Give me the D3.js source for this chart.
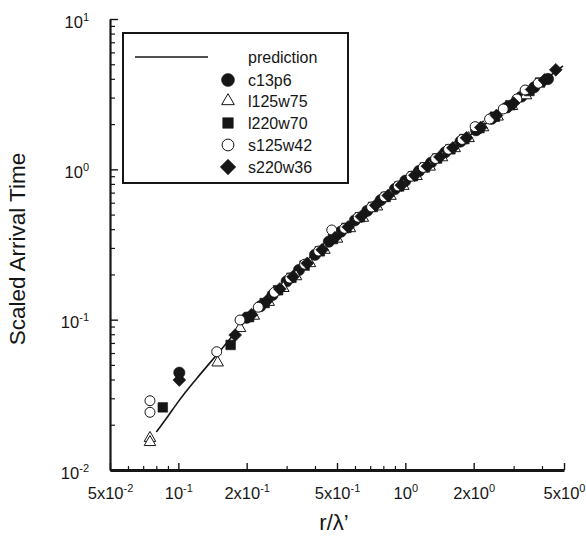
<!DOCTYPE html>
<html>
<head>
<meta charset="utf-8">
<script src="https://cdn.jsdelivr.net/npm/d3@7"></script>
<style>
  html, body { margin: 0; padding: 0; background: #fff; }
  svg { display: block; font-family: "Liberation Sans", Arial, Helvetica, sans-serif; }
</style>
</head>
<body>
<svg id="chart" width="586" height="540"></svg>
<script>
// ---- prediction curve ----
const predX = [0.08, 0.09, 0.1, 0.12, 0.15, 0.2, 0.3, 0.5, 0.7, 1.0, 1.5, 2.0, 3.0, 4.0, 4.95];
const predY = [0.0179, 0.0228, 0.0285, 0.0403, 0.060, 0.100, 0.176, 0.361, 0.540, 0.822, 1.28, 1.756, 2.762, 3.823, 4.875];

// ---- measured runs ----
const c13p6X = [0.101, 0.20, 0.23, 0.26, 0.30, 0.34, 0.40, 0.46, 0.52, 0.60, 0.68, 0.78, 0.90, 1.00, 1.15, 1.30, 1.50, 1.75, 2.05, 2.40, 2.80, 3.25, 3.70, 4.25];
const c13p6Y = [0.0444, 0.103, 0.123, 0.146, 0.180, 0.214, 0.270, 0.330, 0.385, 0.458, 0.530, 0.625, 0.740, 0.84, 0.975, 1.11, 1.30, 1.53, 1.82, 2.17, 2.58, 3.05, 3.52, 3.99];

const l125w75X = [0.075, 0.075, 0.149, 0.187, 0.215, 0.25, 0.29, 0.33, 0.38, 0.44, 0.50, 0.57, 0.65, 0.75, 0.86, 0.98, 1.12, 1.28, 1.45, 1.65, 1.9, 2.2, 2.55, 2.95, 3.4];
const l125w75Y = [0.0163, 0.0153, 0.0518, 0.0877, 0.106, 0.131, 0.162, 0.194, 0.237, 0.291, 0.345, 0.405, 0.475, 0.565, 0.665, 0.775, 0.90, 1.04, 1.20, 1.38, 1.61, 1.90, 2.24, 2.63, 3.10];

const l220w70X = [0.0854, 0.170, 0.205, 0.24, 0.275, 0.315, 0.36, 0.42, 0.48, 0.55, 0.63, 0.72, 0.82, 0.94, 1.08, 1.22, 1.38, 1.58, 1.82, 2.12, 2.48, 2.9, 3.52, 3.92];
const l220w70Y = [0.0261, 0.0679, 0.104, 0.129, 0.157, 0.190, 0.229, 0.285, 0.344, 0.408, 0.48, 0.562, 0.655, 0.77, 0.90, 1.03, 1.18, 1.36, 1.59, 1.88, 2.24, 2.67, 3.32, 3.78];

const s125w42X = [0.075, 0.075, 0.1476, 0.187, 0.225, 0.265, 0.31, 0.36, 0.415, 0.474, 0.54, 0.62, 0.71, 0.81, 0.93, 1.06, 1.2, 1.36, 1.55, 1.78, 2.03, 2.35, 2.7, 3.1, 3.37, 3.85];
const s125w42Y = [0.0289, 0.0242, 0.0612, 0.0995, 0.121, 0.152, 0.189, 0.234, 0.286, 0.395, 0.405, 0.48, 0.562, 0.658, 0.775, 0.90, 1.03, 1.18, 1.36, 1.58, 1.923, 2.16, 2.52, 2.94, 3.37, 3.74];

const s220w36X = [0.101, 0.178, 0.21, 0.245, 0.28, 0.32, 0.37, 0.43, 0.49, 0.56, 0.64, 0.74, 0.84, 0.96, 1.1, 1.25, 1.42, 1.62, 1.86, 2.15, 2.52, 3.0, 3.6, 4.1, 4.6];
const s220w36Y = [0.0397, 0.079, 0.108, 0.133, 0.160, 0.193, 0.237, 0.292, 0.351, 0.414, 0.486, 0.577, 0.670, 0.785, 0.913, 1.05, 1.21, 1.39, 1.62, 1.90, 2.28, 2.76, 3.40, 3.93, 4.59];

// ---- axis ticks ----
const xMajorTicks = [0.05, 0.1, 0.2, 0.5, 1, 2, 5];
const xMajorLabels = [["5x10", "-2"], ["10", "-1"], ["2x10", "-1"], ["5x10", "-1"], ["10", "0"], ["2x10", "0"], ["5x10", "0"]];
const xMinorTicks = [0.06, 0.07, 0.08, 0.09, 0.3, 0.4, 0.6, 0.7, 0.8, 0.9, 3, 4];
const yMajorTicks = [0.01, 0.1, 1, 10];
const yMajorLabels = [["10", "-2"], ["10", "-1"], ["10", "0"], ["10", "1"]];
const yMinorTicks = [0.02, 0.03, 0.04, 0.05, 0.06, 0.07, 0.08, 0.09,
                     0.2, 0.3, 0.4, 0.5, 0.6, 0.7, 0.8, 0.9,
                     2, 3, 4, 5, 6, 7, 8, 9];

const seriesNames = ["c13p6", "l125w75", "l220w70", "s125w42", "s220w36"];
const seriesX = [c13p6X, l125w75X, l220w70X, s125w42X, s220w36X];
const seriesY = [c13p6Y, l125w75Y, l220w70Y, s125w42Y, s220w36Y];

const ink = "#161616";

const svg = d3.select("#chart");
const x = d3.scaleLog().domain([0.05, 5]).range([110, 564]);
const y = d3.scaleLog().domain([0.01, 10]).range([470, 19]);

// marker shapes: symbol type, area in plot, area in legend, filled, rotation
const markerStyle = {
  c13p6:   { type: d3.symbolCircle,   plot: 100, legend: 130, filled: true,  rot: 0 },
  l125w75: { type: d3.symbolTriangle, plot: 58,  legend: 70,  filled: false, rot: 0 },
  l220w70: { type: d3.symbolSquare,   plot: 92,  legend: 110, filled: true,  rot: 0 },
  s125w42: { type: d3.symbolCircle,   plot: 78,  legend: 110, filled: false, rot: 0 },
  s220w36: { type: d3.symbolSquare,   plot: 82,  legend: 120, filled: true,  rot: 45 }
};

function drawMarker(g, name, cx, cy, which) {
  const st = markerStyle[name];
  const path = d3.symbol().type(st.type).size(st[which])();
  g.append("path")
    .attr("d", path)
    .attr("transform", `translate(${cx},${cy}) rotate(${st.rot})`)
    .attr("fill", st.filled ? ink : "#fff")
    .attr("stroke", ink)
    .attr("stroke-width", st.filled ? 0.6 : 1);
}

// ---- axes ----
const xAxisG = svg.append("g").attr("transform", "translate(0,470)");
xAxisG.call(d3.axisBottom(x).tickValues(xMinorTicks).tickSizeInner(-4).tickSizeOuter(0).tickFormat(""));
xAxisG.call(g => g.selectAll(".tick line").attr("stroke", ink).attr("stroke-width", 1.2));
const xMajG = svg.append("g").attr("transform", "translate(0,470)");
xMajG.call(d3.axisBottom(x).tickValues(xMajorTicks).tickSizeInner(-7).tickSizeOuter(0).tickPadding(0).tickFormat(""));
xMajG.select(".domain").remove();
xMajG.selectAll(".tick line").attr("stroke", ink).attr("stroke-width", 1.4);
xMajG.selectAll(".tick").append("text")
  .attr("fill", ink)
  .attr("y", 29)
  .attr("text-anchor", "middle")
  .style("font-size", "16.5px")
  .each(function(d, i) {
    const t = d3.select(this);
    t.append("tspan").text(xMajorLabels[i][0]);
    t.append("tspan").attr("dy", -7).style("font-size", "11px").text(xMajorLabels[i][1]);
  });
xAxisG.select(".domain").attr("stroke", ink).attr("stroke-width", 3);

const yAxisG = svg.append("g").attr("transform", "translate(110,0)");
yAxisG.call(d3.axisLeft(y).tickValues(yMinorTicks).tickSizeInner(-5).tickSizeOuter(0).tickFormat(""));
yAxisG.selectAll(".tick line").attr("stroke", ink).attr("stroke-width", 1.2);
yAxisG.select(".domain").attr("stroke", ink).attr("stroke-width", 2.2);
const yMajG = svg.append("g").attr("transform", "translate(110,0)");
yMajG.call(d3.axisLeft(y).tickValues(yMajorTicks).tickSizeInner(-8).tickSizeOuter(0).tickFormat(""));
yMajG.select(".domain").remove();
yMajG.selectAll(".tick line").attr("stroke", ink).attr("stroke-width", 1.4);
yMajG.selectAll(".tick").append("text")
  .attr("fill", ink)
  .attr("x", -21)
  .attr("y", 8)
  .attr("text-anchor", "end")
  .style("font-size", "16.5px")
  .each(function(d, i) {
    const t = d3.select(this);
    t.append("tspan").text(yMajorLabels[i][0]);
    t.append("tspan").attr("dy", -7).style("font-size", "11px").text(yMajorLabels[i][1]);
  });

// axis titles
svg.append("text")
  .attr("transform", "translate(25,249) rotate(-90)")
  .attr("text-anchor", "middle")
  .attr("fill", ink)
  .style("font-size", "22.5px")
  .text("Scaled Arrival Time");

svg.append("text")
  .attr("x", 334)
  .attr("y", 530)
  .attr("text-anchor", "middle")
  .attr("fill", ink)
  .style("font-size", "22px")
  .text("r/λ’");

// ---- prediction line ----
const predPts = predX.map((v, i) => [v, predY[i]]);
svg.append("path")
  .datum(predPts)
  .attr("fill", "none")
  .attr("stroke", ink)
  .attr("stroke-width", 1.6)
  .attr("d", d3.line().x(d => x(d[0])).y(d => y(d[1])).curve(d3.curveMonotoneX));

// ---- data markers ----
const marks = svg.append("g");
seriesNames.forEach((name, si) => {
  seriesX[si].forEach((xv, i) => {
    drawMarker(marks, name, x(xv), y(seriesY[si][i]), "plot");
  });
});

// ---- legend ----
const leg = svg.append("g");
leg.append("rect")
  .attr("x", 123).attr("y", 33).attr("width", 225).attr("height", 150)
  .attr("fill", "#fff").attr("stroke", ink).attr("stroke-width", 2);
const rowY = [57, 80, 101, 123, 145, 167];
leg.append("line")
  .attr("x1", 135).attr("x2", 208).attr("y1", rowY[0]).attr("y2", rowY[0])
  .attr("stroke", ink).attr("stroke-width", 1.6);
leg.append("text")
  .attr("x", 248).attr("y", rowY[0] + 6)
  .attr("fill", ink).style("font-size", "16px")
  .text("prediction");
seriesNames.forEach((name, i) => {
  drawMarker(leg, name, 228, rowY[i + 1], "legend");
  leg.append("text")
    .attr("x", 248).attr("y", rowY[i + 1] + 6)
    .attr("fill", ink).style("font-size", "16px")
    .text(name);
});
</script>
</body>
</html>
